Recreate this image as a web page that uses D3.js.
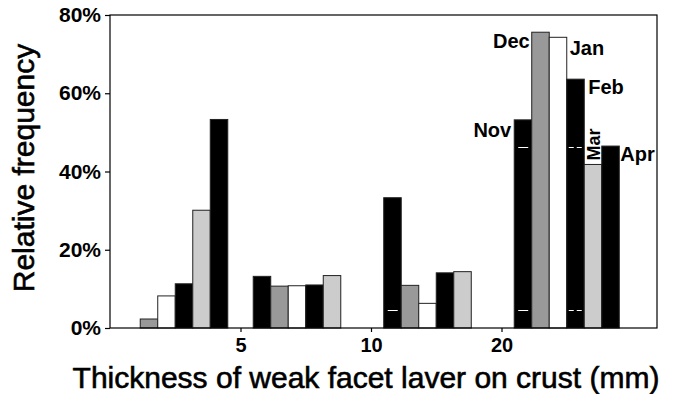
<!DOCTYPE html>
<html><head><meta charset="utf-8">
<script src="https://cdn.jsdelivr.net/npm/d3@7"></script>
<style>
html,body{margin:0;padding:0;background:#fff;}
svg{display:block;font-family:"Liberation Sans",Arial,sans-serif;}
</style></head>
<body>
<svg id="c" width="679" height="394"></svg>
<script>
// ---- data ----
const categories = ["<5", "5-10", "10-20", ">20"];
const months = ["Nov", "Dec", "Jan", "Feb", "Mar", "Apr"];
const nov = [0, 13.2, 33.3, 53.2];
const dec = [2.3, 10.7, 10.9, 75.6];
const jan = [8.2, 10.8, 6.3, 74.3];
const feb = [11.3, 11.0, 14.1, 63.6];
const mar = [30.1, 13.4, 14.4, 41.8];
const apr = [53.3, 0, 0, 46.5];
const boundaryLabels = ["5", "10", "20"];
const yTickValues = [0, 20, 40, 60, 80];
const monthColors = ["#000000", "#999999", "#ffffff", "#000000", "#cccccc", "#000000"];

const series = [nov, dec, jan, feb, mar, apr];

const svg = d3.select("#c");
const pLeft = 110, pRight = 657, pTop = 15, pBottom = 328;

const x = d3.scaleBand().domain(categories).range([110, 632])
  .paddingInner(0.195).paddingOuter(0.0975);
const xs = d3.scaleBand().domain(months).range([0, x.bandwidth()]);
const y = d3.scaleLinear().domain([0, 80]).range([pBottom, pTop]);

const gap = (x.step() - x.bandwidth()) / 2;
const tickPos = d3.scaleOrdinal().domain(boundaryLabels)
  .range(categories.slice(1).map(c => x(c) - gap));

// bars
const rows = [];
categories.forEach((c, ci) => months.forEach((m, mi) => {
  rows.push({cat: c, month: m, v: series[mi][ci], color: monthColors[mi]});
}));
svg.append("g").selectAll("rect").data(rows.filter(d => d.v > 0)).join("rect")
  .attr("x", d => x(d.cat) + xs(d.month))
  .attr("y", d => y(d.v))
  .attr("width", xs.bandwidth())
  .attr("height", d => y(0) - y(d.v))
  .attr("fill", d => d.color)
  .attr("stroke", "#222")
  .attr("stroke-width", 1);

// faint white marks inside some bars (as in the source figure)
const whiteMarks = [[">20", "Nov", 46.3], [">20", "Nov", 4.6], ["10-20", "Nov", 4.6]];
const whiteDashed = [[">20", "Feb", 46.3], [">20", "Feb", 4.6]];
svg.append("g").selectAll("line").data(whiteMarks).join("line")
  .attr("x1", d => x(d[0]) + xs(d[1]) + 4)
  .attr("x2", d => x(d[0]) + xs(d[1]) + 14)
  .attr("y1", d => Math.round(y(d[2])) + 0.5).attr("y2", d => Math.round(y(d[2])) + 0.5)
  .attr("stroke", "#fff").attr("stroke-width", 1);
svg.append("g").selectAll("line").data(whiteDashed).join("line")
  .attr("x1", d => x(d[0]) + xs(d[1]) + 2)
  .attr("x2", d => x(d[0]) + xs(d[1]) + 17)
  .attr("y1", d => Math.round(y(d[2])) + 0.5).attr("y2", d => Math.round(y(d[2])) + 0.5)
  .attr("stroke", "#fff").attr("stroke-width", 1).attr("stroke-dasharray", "5,3");

// frame
svg.append("rect").attr("x", pLeft).attr("y", pTop)
  .attr("width", pRight - pLeft).attr("height", pBottom - pTop)
  .attr("fill", "none").attr("stroke", "#000").attr("stroke-width", 1.2);

// y axis
const yAxis = svg.append("g").attr("transform", `translate(${pLeft},0)`)
  .call(d3.axisLeft(y).tickValues(yTickValues).tickFormat(d => d + "%").tickSize(5).tickPadding(4));
yAxis.select(".domain").remove();
yAxis.selectAll("line").attr("stroke", "#000").attr("stroke-width", 1.2);
yAxis.selectAll("text").attr("font-size", 21).attr("font-weight", "bold")
  .attr("font-family", "'Liberation Sans', Arial, sans-serif").attr("fill", "#000");

// x axis
const xAxis = svg.append("g").attr("transform", `translate(0,${pBottom})`)
  .call(d3.axisBottom(tickPos).tickSize(4).tickPadding(6));
xAxis.select(".domain").remove();
xAxis.selectAll("line").attr("stroke", "#000").attr("stroke-width", 1.2);
xAxis.selectAll("text").attr("font-size", 20).attr("font-weight", "bold")
  .attr("font-family", "'Liberation Sans', Arial, sans-serif").attr("fill", "#000");

// titles
svg.append("text").attr("x", 366).attr("y", 388).attr("text-anchor", "middle")
  .attr("font-size", 30).attr("stroke", "#000").attr("stroke-width", 0.6)
  .text("Thickness of weak facet laver on crust (mm)");
svg.append("text").attr("transform", "translate(34,168) rotate(-90)").attr("text-anchor", "middle")
  .attr("font-size", 30).attr("stroke", "#000").attr("stroke-width", 0.6)
  .text("Relative frequency");

// month labels on the last group
const last = categories[3];
const lab = svg.append("g").attr("font-size", 20).attr("font-weight", "bold");
const bx = m => x(last) + xs(m);
const bw = xs.bandwidth();
const topOf = m => y(series[months.indexOf(m)][3]);
lab.append("text").attr("x", bx("Nov") - 3).attr("y", topOf("Nov") + 17).attr("text-anchor", "end").text("Nov");
lab.append("text").attr("x", bx("Dec") - 2).attr("y", topOf("Dec") + 16).attr("text-anchor", "end").text("Dec");
lab.append("text").attr("x", bx("Jan") + bw + 3).attr("y", topOf("Jan") + 18).text("Jan");
lab.append("text").attr("x", bx("Feb") + bw + 4).attr("y", topOf("Feb") + 15).text("Feb");
lab.append("text").attr("font-size", 18)
  .attr("transform", `translate(${bx("Mar") + bw / 2 + 7},${topOf("Mar") - 4}) rotate(-90)`).text("Mar");
lab.append("text").attr("x", bx("Apr") + bw + 1).attr("y", topOf("Apr") + 15).text("Apr");
</script>
</body></html>
